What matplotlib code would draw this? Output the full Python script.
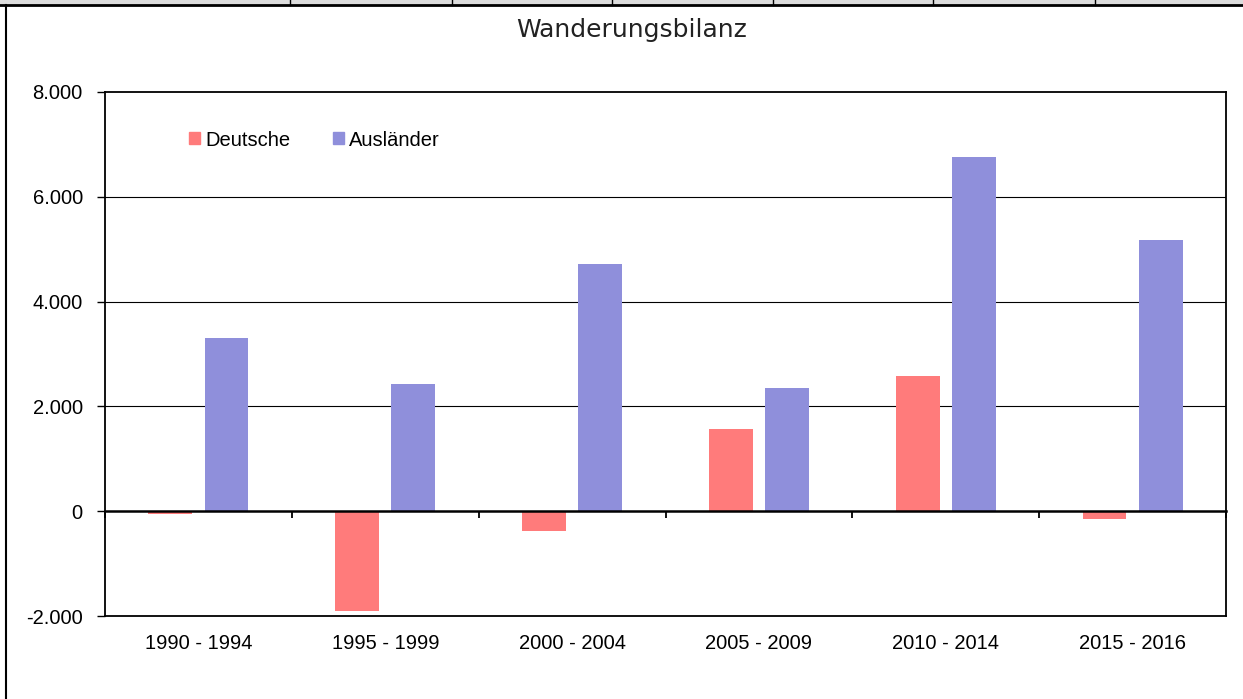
import matplotlib.pyplot as plt
from matplotlib.lines import Line2D
from matplotlib.patches import Patch
from matplotlib.ticker import FuncFormatter
import numpy as np

plt.rcParams['font.family'] = ['Liberation Sans', 'DejaVu Sans']

# data
periods = ["1990 - 1994", "1995 - 1999", "2000 - 2004", "2005 - 2009", "2010 - 2014", "2015 - 2016"]
deutsche = [-60, -1900, -380, 1570, 2580, -150]
auslaender = [3300, 2420, 4710, 2350, 6750, 5170]

red = "#FF7B7B"
blue = "#8F8FDB"

fig = plt.figure(figsize=(12.43, 6.99), dpi=100)
ax = fig.add_axes([0.0845, 0.1187, 0.9018, 0.7497])

x = np.arange(len(periods))
w = 0.235
ax.bar(x - 0.15, deutsche, w, color=red, zorder=3)
ax.bar(x + 0.15, auslaender, w, color=blue, zorder=3)

ax.set_xlim(-0.5, len(periods) - 0.5)
ax.set_ylim(-2000, 8000)
ax.set_yticks([-2000, 0, 2000, 4000, 6000, 8000])
ax.yaxis.set_major_formatter(FuncFormatter(lambda v, p: f"{int(v):,}".replace(",", ".")))
ax.tick_params(axis='y', direction='out', length=6, width=1, labelsize=14.5, pad=10, colors='black')
for g in [2000, 4000, 6000]:
    ax.axhline(g, color='black', lw=0.8, zorder=1)

ax.set_xticks(x)
ax.set_xticklabels(periods)
ax.tick_params(axis='x', length=0, labelsize=14.5, pad=13)

for s in ax.spines.values():
    s.set_linewidth(1.3)
    s.set_color('black')

# zero line with category separators
sec = ax.secondary_xaxis(0.2)
sec.set_xticks(np.arange(-0.5, len(periods), 1.0))
sec.set_xticklabels([])
sec.tick_params(direction='out', length=5, width=1.3)
sec.spines['bottom'].set_linewidth(1.8)
sec.set_zorder(4)

handles = [Patch(color=red, label="Deutsche"), Patch(color=blue, label="Ausländer")]
fig.legend(handles=handles, loc='center left', bbox_to_anchor=(189 / 1243, 1 - 140 / 699),
           bbox_transform=fig.transFigure, ncol=2, frameon=False, fontsize=14.5,
           handlelength=0.55, handleheight=0.55, handletextpad=0.25, columnspacing=2.1,
           borderpad=0, borderaxespad=0)

fig.text(0.508, 1 - 30 / 699, "Wanderungsbilanz", ha='center', va='center', fontsize=18,
         family=['DejaVu Sans'], color='#222222')

# table frame around the chart
fig.patches.append(plt.Rectangle((0, 1 - 5 / 699), 1, 5 / 699, transform=fig.transFigure,
                                 color='#DCDCDC', zorder=0))
fig.lines.append(Line2D([0, 1], [1 - 5 / 699] * 2, transform=fig.transFigure, color='black', lw=2))
fig.lines.append(Line2D([6 / 1243] * 2, [0, 1 - 5 / 699], transform=fig.transFigure, color='black', lw=1.5))
for px in [290, 452, 612, 773, 933, 1095]:
    fig.lines.append(Line2D([px / 1243] * 2, [1 - 5 / 699, 1], transform=fig.transFigure,
                            color='black', lw=1))

fig.savefig("out.png", dpi=100)
